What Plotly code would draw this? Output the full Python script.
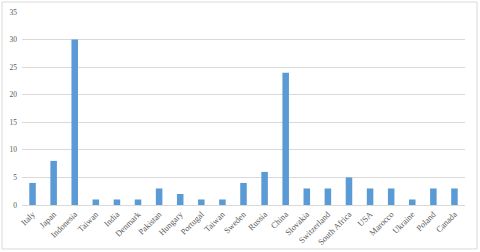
import plotly.graph_objects as go

countries = ["Italy", "Japan", "Indonesia", "Taiwan", "India", "Denmark", "Pakistan",
             "Hungary", "Portugal", "Taiwan", "Sweden", "Russia", "China", "Slovakia",
             "Switzerland", "South Africa", "USA", "Marocco", "Ukraine", "Poland", "Canada"]
counts = [4, 8, 30, 1, 1, 1, 3, 2, 1, 1, 4, 6, 24, 3, 3, 5, 3, 3, 1, 3, 3]
y_ticks = [0, 5, 10, 15, 20, 25, 30, 35]

W, H = 480, 252
ML, MR, MT, MB = 22, 15, 12, 47
pw, ph = W - ML - MR, H - MT - MB

positions = list(range(len(countries)))

fig = go.Figure(go.Bar(
    x=positions, y=counts, marker_color="#5B9BD5", marker_line_width=0,
    width=0.31,
))

fig.update_layout(
    width=W, height=H,
    margin=dict(l=ML, r=MR, t=MT, b=MB, autoexpand=False),
    paper_bgcolor="white", plot_bgcolor="white",
    showlegend=False,
    font=dict(family="Liberation Serif, Times New Roman, serif", size=7, color="#595959"),
    xaxis=dict(
        tickmode="array", tickvals=positions, ticktext=countries,
        tickangle=-45, range=[-0.5, len(countries) - 0.5],
        showgrid=False, showline=True, linecolor="#d9d9d9", linewidth=1,
        ticks="", tickfont=dict(size=8.5, color="#595959"), automargin=False,
    ),
    yaxis=dict(
        range=[0, 35], tickmode="array", tickvals=y_ticks,
        showgrid=True, gridcolor="#d9d9d9", gridwidth=1,
        zeroline=False, showline=False, ticks="",
        tickfont=dict(size=7.5, color="#595959"), ticklabelstandoff=4,
        automargin=False,
    ),
    shapes=[dict(
        type="rect", xref="paper", yref="paper",
        x0=(2 - ML) / pw, x1=(477 - ML) / pw,
        y0=-(249 - MT - ph) / ph, y1=1 + (MT - 2) / ph,
        line=dict(color="#d9d9d9", width=1), fillcolor="rgba(0,0,0,0)",
        layer="below",
    )],
)

fig.write_html(
    "out.html",
    config={"displayModeBar": False, "staticPlot": True},
    post_script="document.body.style.margin='0';document.body.style.overflow='hidden';",
)
